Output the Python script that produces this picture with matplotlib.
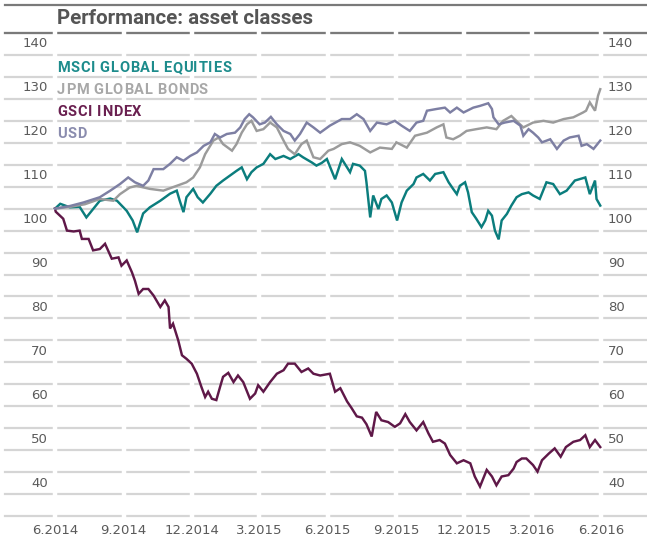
import matplotlib
matplotlib.use("Agg")
import matplotlib.pyplot as plt
from matplotlib.lines import Line2D
from matplotlib.font_manager import FontProperties
import numpy as np
import pandas as pd

# ---------------- data (days since 2014-06-01, index value) ----------------
start_date = "2014-06-01"

msci_days = [0, 7, 20, 33, 42, 60, 74, 83, 96, 104, 110, 118, 127, 141, 154, 163, 167, 172,
             176, 185, 191, 198, 208, 216, 225, 234, 243, 250, 257, 263, 270, 279, 288, 295,
             306, 315, 326, 332, 344, 350, 357, 364, 375, 384, 395, 399, 408, 415, 417, 422,
             426, 433, 437, 444, 451, 458, 464, 471, 480, 484, 493, 502, 509, 520, 527, 533,
             538, 542, 549, 553, 558, 564, 571, 576, 580, 585, 589, 594, 598, 605, 611, 618,
             625, 634, 640, 649, 658, 667, 676, 685, 696, 710, 716, 723, 725, 730]
msci_vals = [100.0, 101.1, 100.3, 100.4, 98.0, 101.8, 102.3, 101.8, 99.5, 97.3, 94.6, 98.9,
             100.3, 101.8, 103.4, 104.1, 101.8, 99.2, 102.6, 104.5, 102.6, 101.4, 103.4, 105.2,
             106.4, 107.5, 108.6, 109.4, 106.7, 108.3, 109.4, 110.2, 112.4, 111.3, 112.0, 111.3,
             112.4, 111.7, 110.5, 109.8, 110.4, 111.3, 106.7, 111.3, 108.3, 110.2, 109.8, 108.6,
             106.0, 98.0, 103.0, 99.9, 102.2, 103.0, 101.4, 97.3, 101.4, 104.1, 105.6, 107.1,
             107.9, 106.4, 107.9, 108.3, 106.0, 104.5, 103.3, 105.2, 106.0, 103.7, 99.2, 97.7,
             95.8, 97.3, 99.5, 98.4, 95.0, 93.0, 97.3, 98.8, 100.7, 102.6, 103.3, 103.7, 103.0,
             102.2, 106.0, 105.6, 103.3, 104.1, 106.4, 107.1, 103.3, 106.4, 102.2, 100.7]

jpm_days = [0, 20, 40, 60, 78, 87, 100, 109, 127, 145, 163, 176, 185, 194, 201, 212, 219, 225,
            237, 243, 250, 257, 263, 270, 279, 288, 297, 306, 312, 321, 330, 337, 346, 355,
            366, 373, 384, 395, 408, 422, 435, 451, 457, 471, 482, 498, 511, 520, 524, 533,
            542, 551, 564, 578, 591, 600, 611, 620, 627, 640, 654, 667, 681, 694, 707, 711,
            716, 723, 727, 730]
jpm_vals = [100.0, 100.4, 101.0, 102.2, 101.8, 103.3, 104.8, 105.2, 104.5, 104.1, 105.2, 106.0,
            107.1, 109.4, 112.4, 115.5, 116.2, 114.7, 113.2, 114.7, 117.3, 119.2, 120.0, 117.7,
            118.1, 119.6, 118.5, 115.5, 113.6, 112.4, 114.7, 115.5, 111.7, 111.3, 113.2, 113.6,
            114.7, 115.1, 114.3, 112.8, 113.9, 113.6, 115.1, 113.9, 116.6, 117.3, 118.5, 119.2,
            116.2, 115.8, 116.6, 117.7, 118.1, 118.5, 118.1, 120.0, 121.1, 119.6, 118.5, 119.6,
            120.0, 119.6, 120.4, 120.8, 121.9, 122.3, 124.2, 122.3, 125.7, 127.2]

gsci_days = [0, 1, 11, 16, 25, 33, 36, 45, 51, 60, 67, 76, 85, 89, 96, 103, 107, 112, 118, 125,
             132, 141, 147, 152, 154, 158, 165, 170, 176, 183, 190, 196, 201, 205, 210, 216,
             221, 225, 232, 239, 245, 252, 261, 268, 272, 279, 288, 297, 306, 312, 321, 330,
             339, 346, 355, 368, 375, 382, 391, 397, 404, 411, 417, 424, 430, 437, 446, 455,
             462, 469, 475, 484, 493, 500, 506, 515, 522, 529, 538, 547, 556, 562, 569, 578,
             585, 591, 598, 607, 614, 618, 625, 631, 640, 646, 652, 661, 669, 677, 684, 694,
             703, 710, 716, 723, 730]
gsci_vals = [100.0, 99.3, 97.7, 95.0, 94.8, 95.0, 93.1, 93.1, 90.5, 90.8, 92.0, 88.6, 88.9,
             87.0, 88.2, 85.5, 83.6, 80.6, 81.7, 81.7, 80.2, 77.6, 79.1, 77.6, 72.7, 73.8, 70.0,
             66.6, 65.8, 64.7, 62.4, 59.4, 57.1, 58.3, 56.7, 56.4, 59.4, 61.7, 62.6, 60.5, 62.0,
             60.5, 56.7, 57.9, 59.8, 58.3, 60.5, 62.4, 63.2, 64.7, 64.7, 62.8, 63.6, 62.4, 62.0,
             62.4, 58.3, 59.1, 56.1, 54.6, 52.7, 52.4, 50.9, 48.1, 53.7, 51.8, 51.4, 50.3, 51.1,
             53.2, 51.4, 49.5, 51.4, 48.8, 46.9, 47.3, 46.5, 43.9, 42.0, 42.7, 42.0, 39.0, 36.7,
             40.5, 39.0, 37.0, 39.0, 39.3, 40.8, 42.3, 43.1, 43.1, 41.6, 40.1, 42.7, 44.2, 45.4,
             43.5, 45.7, 46.9, 47.3, 48.4, 45.7, 47.3, 45.7]

usd_days = [0, 20, 38, 60, 74, 87, 98, 107, 118, 125, 132, 145, 154, 163, 172, 181, 190, 199,
            208, 214, 221, 230, 241, 248, 254, 260, 265, 274, 281, 289, 297, 306, 315, 321,
            328, 337, 346, 355, 368, 384, 395, 404, 413, 422, 431, 444, 455, 464, 475, 484,
            493, 498, 511, 522, 529, 538, 547, 560, 569, 580, 585, 587, 594, 602, 614, 623,
            627, 634, 640, 647, 652, 663, 672, 681, 689, 701, 705, 712, 721, 730]
usd_vals = [100.0, 100.6, 101.4, 102.6, 104.1, 105.6, 107.1, 106.0, 105.2, 106.4, 109.0, 109.0,
            110.2, 111.7, 110.9, 112.0, 112.8, 114.3, 115.1, 117.0, 116.2, 117.0, 117.3, 118.5,
            120.4, 121.5, 120.8, 119.2, 119.6, 120.9, 119.2, 117.7, 117.0, 115.5, 117.0, 119.6,
            118.5, 117.3, 118.9, 120.4, 120.4, 121.5, 120.4, 117.7, 119.6, 119.2, 120.0, 118.9,
            117.7, 119.6, 120.0, 122.3, 122.7, 123.0, 121.9, 123.0, 121.9, 123.0, 123.4, 124.0,
            122.7, 120.8, 119.2, 119.6, 120.0, 118.9, 116.6, 118.1, 117.3, 116.2, 115.1, 115.8,
            113.6, 115.5, 116.2, 116.6, 114.3, 114.7, 113.6, 115.5]

series_names = ["MSCI GLOBAL EQUITIES", "JPM GLOBAL BONDS", "GSCI INDEX", "USD"]
series_colors = ["#0b7d7d", "#9b9b9b", "#5f1848", "#7d7fa3"]
label_colors = ["#1d8c8c", "#a8a8a8", "#6a2050", "#8a8cae"]

tick_dates = ["2014-06-01", "2014-09-01", "2014-12-01", "2015-03-01", "2015-06-01",
              "2015-09-01", "2015-12-01", "2016-03-01", "2016-06-01"]
tick_labels = ["6.2014", "9.2014", "12.2014", "3.2015", "6.2015", "9.2015", "12.2015",
               "3.2016", "6.2016"]
y_labels = [40, 50, 60, 70, 80, 90, 100, 110, 120, 130, 140]
y_grid = np.arange(30, 141, 5)

title = "Performance: asset classes"

# ---------------- figure ----------------
W, H = 647, 543
fig = plt.figure(figsize=(W / 100, H / 100), dpi=100)
fig.patch.set_facecolor("white")

ax_left, ax_right = 5, 647
ax_top, ax_bottom = 33, 516
ax = fig.add_axes([ax_left / W, (H - ax_bottom) / H, (ax_right - ax_left) / W,
                   (ax_bottom - ax_top) / H])

t0 = pd.Timestamp(start_date)
def to_dates(days):
    return t0 + pd.to_timedelta(np.array(days), unit="D")

span_days = 731.0
px_per_day = (601 - 55) / span_days
xmin = t0 - pd.Timedelta(days=(55 - ax_left) / px_per_day)
xmax = t0 + pd.Timedelta(days=(ax_right - 55) / px_per_day)
ax.set_xlim(xmin, xmax)
ax.set_ylim(30, 140)

for s in ax.spines.values():
    s.set_visible(False)

ax.set_yticks(y_grid)
ax.yaxis.grid(True, color="#d5d5d5", lw=1.6)
ax.set_axisbelow(True)
ax.tick_params(axis="y", left=False, labelleft=False)
for gl in ax.get_ygridlines():
    gl.set_clip_on(False)
ax.axhline(140, color="#7a7a7a", lw=1.6, zorder=0.8, clip_on=False)

for d in tick_dates:
    ax.axvline(pd.Timestamp(d), ymin=-0.01, ymax=1.01, color="white", lw=3.2,
               zorder=1.0, clip_on=False)

all_days = [msci_days, jpm_days, gsci_days, usd_days]
all_vals = [msci_vals, jpm_vals, gsci_vals, usd_vals]
draw_order = [2, 0, 1, 3]
for i in draw_order:
    ax.plot(to_dates(all_days[i]), all_vals[i], color=series_colors[i], lw=1.75,
            solid_joinstyle="miter", zorder=3 + i)

ax.set_xticks([pd.Timestamp(d) for d in tick_dates])
ax.set_xticklabels(tick_labels)
ax.tick_params(axis="x", length=0, pad=6, labelsize=9.5, labelcolor="#5a5a5a")

ytr = ax.get_yaxis_transform()
xl = (48 - ax_left) / (ax_right - ax_left)
xr = (608 - ax_left) / (ax_right - ax_left)
for v in y_labels:
    ax.text(xl, v - 2.5, str(v), transform=ytr, ha="right", va="center",
            fontsize=9.5, color="#5a5a5a")
    ax.text(xr, v - 2.5, str(v), transform=ytr, ha="left", va="center",
            fontsize=9.5, color="#5a5a5a")

# letter-spaced legend labels
renderer = fig.canvas.get_renderer()
leg_prop = FontProperties(family="Roboto", weight="bold", size=10.5)

def text_width(s):
    w, _, _ = renderer.get_text_width_height_descent(s + "I", leg_prop, ismath=False)
    wi, _, _ = renderer.get_text_width_height_descent("I", leg_prop, ismath=False)
    return w - wi

tracking = 0.7  # px
leg_y = [67, 89, 111, 133]
for name, col, yy in zip(series_names, label_colors, leg_y):
    for k, ch in enumerate(name):
        if ch == " ":
            continue
        xpx = 57 + text_width(name[:k]) + k * tracking
        fig.text(xpx / W, 1 - yy / H, ch, ha="left", va="center_baseline",
                 fontproperties=leg_prop, color=col)

fig.text(57 / W, 1 - 18 / H, title, ha="left", va="center", fontsize=14.8,
         fontweight="bold", family="Roboto", color="#555555")
fig.add_artist(Line2D([5 / W, 1.0], [1 - 5 / H, 1 - 5 / H], color="#7a7a7a", lw=1.6))

fig.savefig("out.png", dpi=100, facecolor="white")
